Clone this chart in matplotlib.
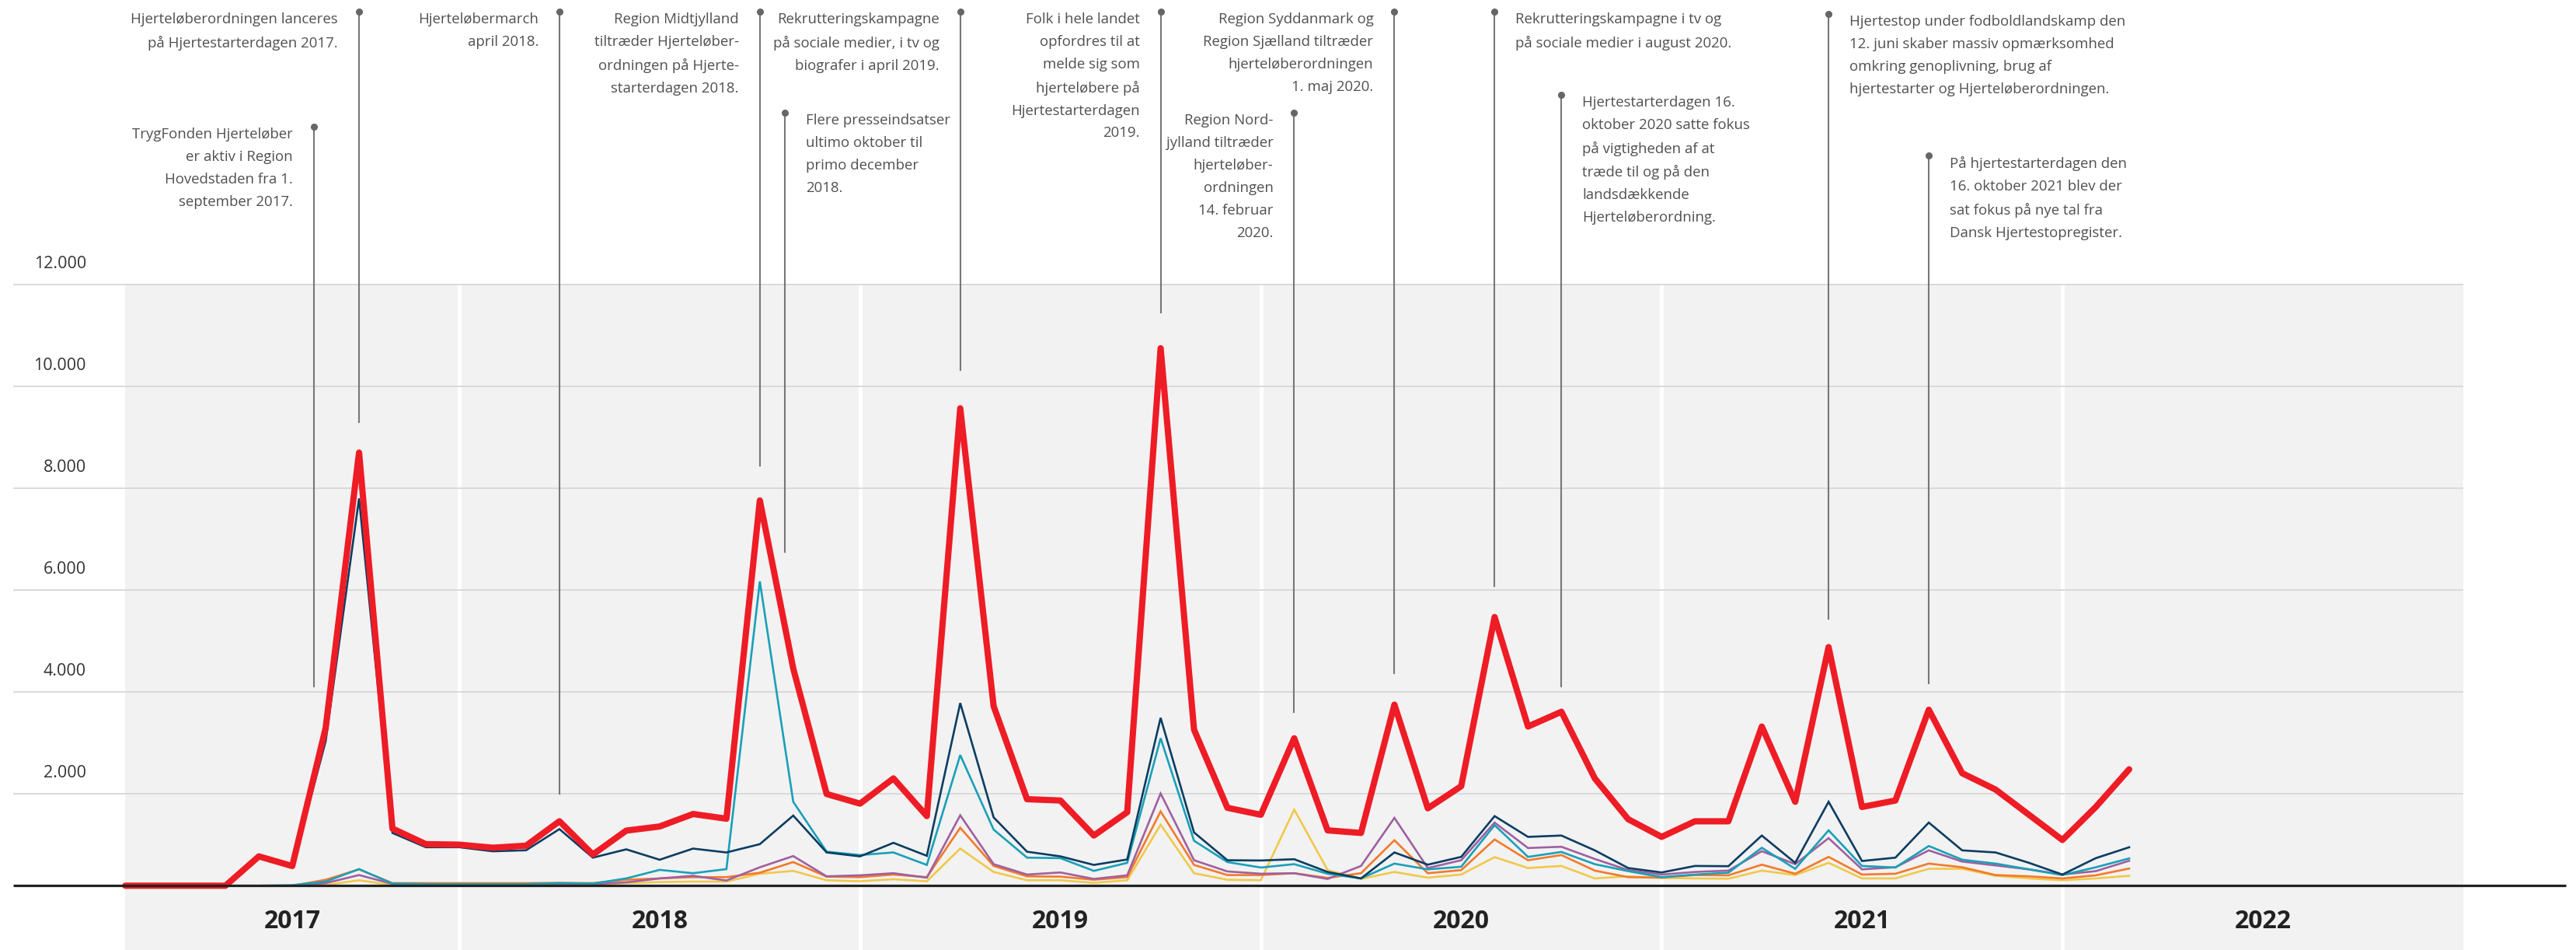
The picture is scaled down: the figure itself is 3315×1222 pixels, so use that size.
import matplotlib
matplotlib.use("Agg")
import matplotlib.pyplot as plt
from matplotlib.patches import Rectangle
from matplotlib.transforms import offset_copy
import pandas as pd

plt.rcParams['font.family'] = ['Open Sans', 'DejaVu Sans']

# monthly values, March 2017 - March 2022
months = pd.period_range('2017-03', '2022-03', freq='M')

total = [194, 194, 194, 194, 770, 580, 3290, 8700, 1316, 1010,
         1000, 940, 980, 1460, 806, 1276, 1357, 1602, 1510, 7760, 4460, 1995,
         1806, 2301, 1561, 9570, 3720, 1893, 1867, 1179, 1638, 10750, 3260, 1724,
         1587, 3090, 1281, 1230, 3750, 1714, 2148, 5470, 3320, 3610, 2301, 1500,
         1153, 1459, 1459, 3320, 1842, 4880, 1740, 1867, 3650, 2403, 2082, 1587,
         1092, 1740, 2480]
hovedstaden = [194, 194, 194, 194, 745, 560, 3030, 7800, 1230, 950,
               950, 870, 890, 1306, 745, 908, 704, 923, 847, 1010, 1571, 847,
               770, 1036, 781, 3780, 1536, 862, 770, 602, 709, 3490, 1240, 694,
               689, 714, 464, 337, 847, 607, 760, 1561, 1153, 1179, 888, 541,
               454, 582, 577, 1179, 643, 1842, 679, 745, 1434, 888, 847, 643,
               413, 735, 949]
midtjylland = [194, 194, 194, 194, 194, 204, 275, 520, 235, 224,
               224, 224, 224, 245, 235, 337, 505, 439, 520, 6170, 1842, 862,
               796, 847, 602, 2760, 1296, 745, 735, 485, 643, 3090, 1077, 658,
               551, 617, 429, 337, 628, 515, 566, 1383, 760, 857, 617, 480,
               362, 413, 449, 939, 526, 1281, 582, 551, 974, 704, 628, 515,
               403, 556, 730]
syddanmark = [194, 194, 194, 194, 194, 194, 245, 403, 230, 225,
              225, 225, 225, 230, 225, 260, 337, 388, 296, 556, 776, 378,
              398, 439, 352, 1577, 617, 413, 454, 327, 398, 2005, 694, 474,
              429, 439, 327, 582, 1526, 541, 694, 1434, 934, 959, 719, 500,
              413, 464, 490, 872, 617, 1128, 515, 556, 888, 668, 592, 515,
              413, 480, 684]
sjaelland = [194, 194, 194, 194, 194, 194, 311, 515, 245, 245,
             245, 245, 245, 250, 245, 311, 337, 362, 362, 449, 658, 372,
             362, 413, 362, 1332, 582, 378, 372, 311, 362, 1653, 602, 403,
             403, 439, 347, 439, 1087, 439, 500, 1102, 694, 796, 490, 362,
             352, 403, 398, 607, 429, 760, 413, 429, 628, 556, 403, 378,
             337, 398, 531]
nordjylland = [194, 194, 194, 194, 194, 194, 209, 301, 205, 205,
               205, 205, 205, 205, 205, 245, 265, 275, 275, 429, 485, 301,
               281, 321, 281, 923, 464, 301, 301, 250, 301, 1393, 439, 311,
               301, 1689, 500, 327, 464, 352, 413, 755, 541, 582, 337, 378,
               347, 337, 332, 490, 403, 643, 337, 337, 526, 526, 388, 337,
               301, 337, 388]

years = ['2017', '2018', '2019', '2020', '2021', '2022']
yticks = [2000, 4000, 6000, 8000, 10000, 12000]

events = [
    ('2017-10-01', 9300, 15, 'left', 'Hjerteløberordningen lanceres\npå Hjertestarterdagen 2017.'),
    ('2017-08-21', 4100, 163, 'left', 'TrygFonden Hjerteløber\ner aktiv i Region\nHovedstaden fra 1.\nseptember 2017.'),
    ('2018-04-01', 2000, 15, 'left', 'Hjerteløbermarch\napril 2018.'),
    ('2018-10-01', 8450, 15, 'left', 'Region Midtjylland\ntiltræder Hjerteløber-\nordningen på Hjerte-\nstarterdagen 2018.'),
    ('2018-10-24', 6750, 145, 'right', 'Flere presseindsatser\nultimo oktober til\nprimo december\n2018.'),
    ('2019-04-01', 10320, 15, 'left', 'Rekrutteringskampagne\npå sociale medier, i tv og\nbiografer i april 2019.'),
    ('2019-10-01', 11450, 15, 'left', 'Folk i hele landet\nopfordres til at\nmelde sig som\nhjerteløbere på\nHjertestarterdagen\n2019.'),
    ('2020-05-01', 4360, 15, 'left', 'Region Syddanmark og\nRegion Sjælland tiltræder\nhjerteløberordningen\n1. maj 2020.'),
    ('2020-02-01', 3610, 145, 'left', 'Region Nord-\njylland tiltræder\nhjerteløber-\nordningen\n14. februar\n2020.'),
    ('2020-08-01', 6080, 15, 'right', 'Rekrutteringskampagne i tv og\npå sociale medier i august 2020.'),
    ('2020-10-01', 4100, 122, 'right', 'Hjertestarterdagen 16.\noktober 2020 satte fokus\npå vigtigheden af at\ntræde til og på den\nlandsdækkende\nHjerteløberordning.'),
    ('2021-06-01', 5440, 18, 'right', 'Hjertestop under fodboldlandskamp den\n12. juni skaber massiv opmærksomhed\nomkring genoplivning, brug af\nhjertestarter og Hjerteløberordningen.'),
    ('2021-09-01', 4165, 200, 'right', 'På hjertestarterdagen den\n16. oktober 2021 blev der\nsat fokus på nye tal fra\nDansk Hjertestopregister.'),
]


def month_pos(d):
    t = pd.Timestamp(d)
    return (t.year - 2018) * 12 + t.month - 1 + (t.day - 1) / t.days_in_month


x = [(p.year - 2018) * 12 + p.month - 1 for p in months]

W, H = 3316, 1222
fig = plt.figure(figsize=(W / 100, H / 100), dpi=100)
ax = fig.add_axes([0, 0, 1, 1])
px_month = 42.98
x0_px = 591
k = 0.0655
zero_px = 1152
ax.set_xlim(-x0_px / px_month, (W - x0_px) / px_month)
ytop = zero_px / k
ybot = (zero_px - H) / k
ax.set_ylim(ybot, ytop)
ax.axis('off')


def ypx(p):
    # pixel row from the top -> data units
    return (zero_px - p) / k


# background bands per year
ax.add_patch(Rectangle((-10, ybot), 70, 12000 - ybot, facecolor='#f2f2f2',
                       edgecolor='none', zorder=0))
ax.vlines([0, 12, 24, 36, 48], ybot, 12000, color='white', lw=3.5, zorder=0.5)

gx0 = (17 - x0_px) / px_month
ax.hlines(yticks, gx0, 60.0, color='#d9d9d9', lw=1.4, zorder=1)
for v in yticks:
    ax.text((111 - x0_px) / px_month, v + 410, f'{v:,}'.replace(',', '.'),
            ha='right', va='center', fontsize=15.5, color='#333333')

centers = [-5, 6, 18, 30, 42, 54]
for c, yr in zip(centers, years):
    ax.text(c, ypx(1185), yr, ha='center', va='center', fontsize=23,
            fontweight='bold', color='#222222')

# annotations
for d, end, top, side, txt in events:
    xm = month_pos(d)
    ax.plot([xm, xm], [end, ypx(top)], color='#777777', lw=1.5, zorder=2)
    ax.plot(xm, ypx(top), 'o', color='#666666', ms=5.5, zorder=2)
    if side == 'left':
        tr = offset_copy(ax.transData, fig=fig, x=-27, y=0, units='dots')
        ha = 'right'
    else:
        tr = offset_copy(ax.transData, fig=fig, x=27, y=0, units='dots')
        ha = 'left'
    ax.text(xm, ypx(top + 1), txt, transform=tr, ha=ha, va='top',
            fontsize=13.4, color='#505050', linespacing=1.78)

series = [
    (nordjylland, '#f1c84b'),
    (sjaelland, '#f37a2b'),
    (syddanmark, '#a0609f'),
    (midtjylland, '#1aa0b8'),
    (hovedstaden, '#0b3d62'),
]
for vals, col in series:
    ax.plot(x, vals, color=col, lw=1.9, zorder=3, solid_joinstyle='miter')
ax.plot(x, total, color='#ee1c25', lw=5.8, zorder=4, solid_joinstyle='round',
        solid_capstyle='round')

# base line
ax.hlines(198, gx0, (3302 - x0_px) / px_month, color='#222222', lw=2.3, zorder=5)

fig.savefig('out.png', dpi=100)
